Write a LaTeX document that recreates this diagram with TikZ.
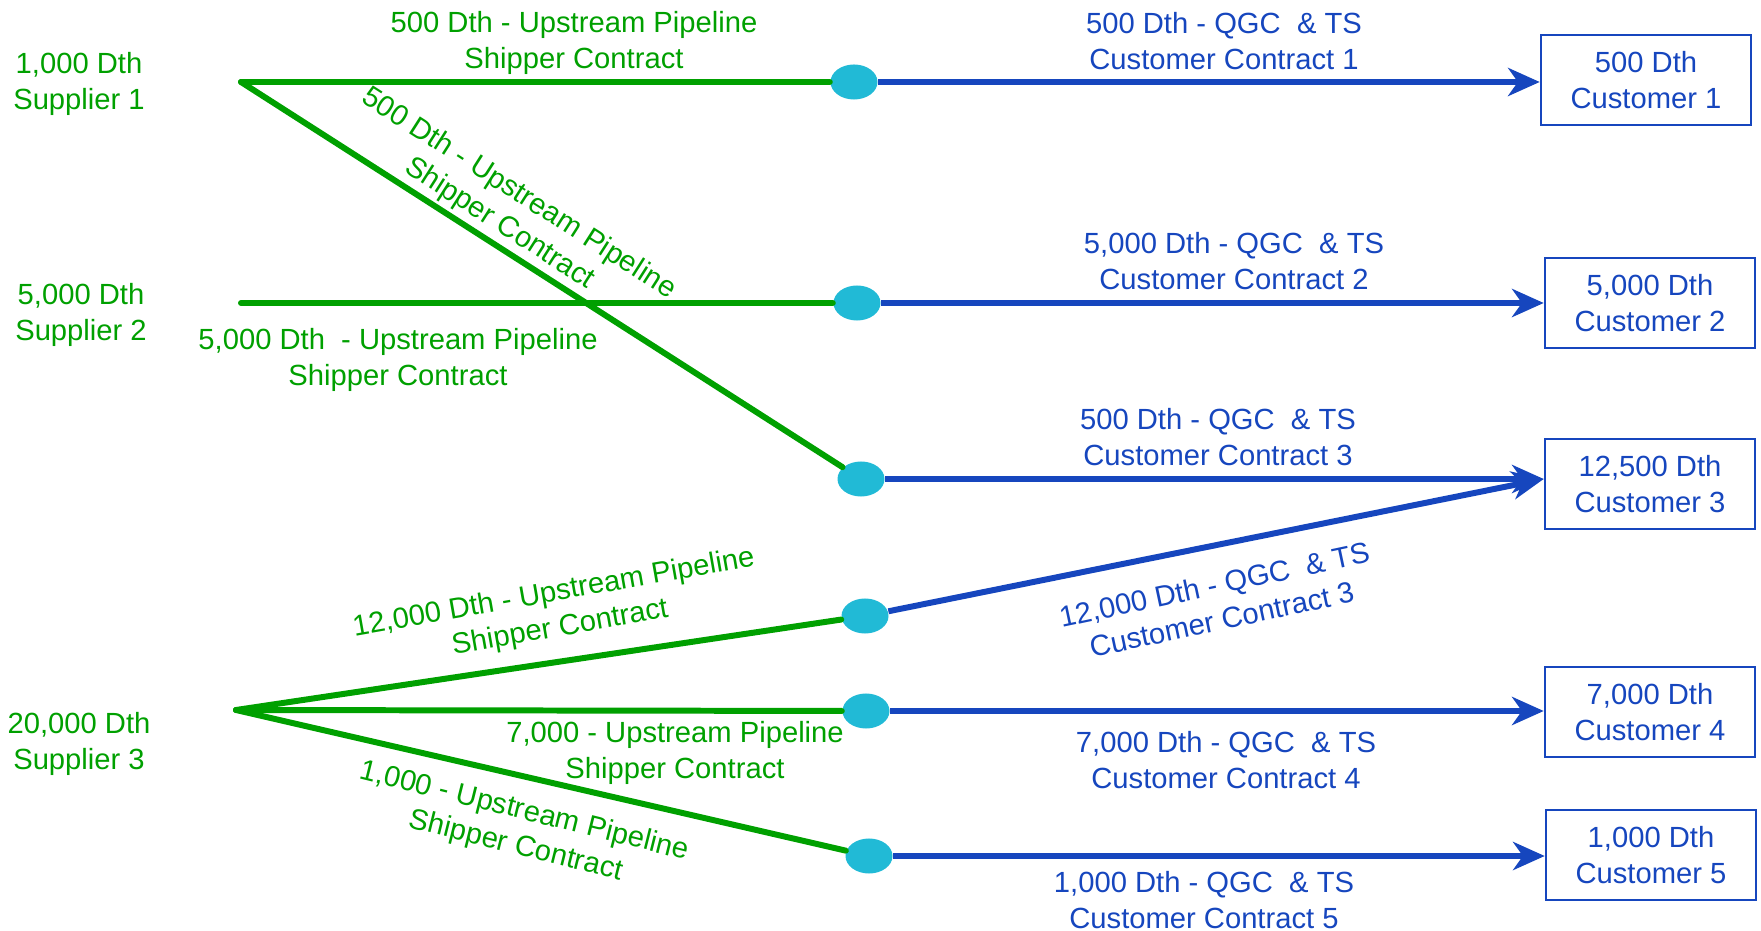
\documentclass[tikz,border=0pt]{standalone}
\usepackage{fontspec}
\setmainfont{Liberation Sans}
\usetikzlibrary{arrows.meta}
\usetikzlibrary{shapes.geometric}

\definecolor{pipegreen}{RGB}{0,160,0}
\definecolor{flowblue}{RGB}{22,70,190}
\definecolor{hubcyan}{RGB}{33,186,214}

\begin{document}
\begin{tikzpicture}[x=0.01cm, y=-0.01cm,
    every node/.style={font=\fontsize{8.3}{10.1}\selectfont, align=center, inner sep=0pt},
    hub/.style={ellipse, fill=hubcyan, minimum width=0.47cm, minimum height=0.35cm},
    custbox/.style={rectangle, draw=flowblue, line width=0.7pt, text=flowblue, minimum width=2.1cm, minimum height=0.9cm},
    pipe/.style={line width=1.7pt, pipegreen, line cap=round},
    flow/.style={line width=1.7pt, flowblue, -{Stealth[length=9pt,width=8pt,inset=2.8pt]}},
    glbl/.style={text=pipegreen},
    blbl/.style={text=flowblue}]

  \useasboundingbox (0,0) rectangle (1761,931);

  % suppliers
  \node[glbl] (sup1) at (79,84) {1,000 Dth\\Supplier 1};
  \node[glbl] (sup2) at (81,315) {5,000 Dth\\Supplier 2};
  \node[glbl] (sup3) at (79,744) {20,000 Dth\\Supplier 3};
  \coordinate (s1) at (241,82);
  \coordinate (s2) at (241,303);
  \coordinate (s3) at (236,710);

  % hubs
  \node[hub] (h1) at (854,82) {};
  \node[hub] (h2) at (857,303) {};
  \node[hub] (h3) at (861,479) {};
  \node[hub] (h4) at (865,616) {};
  \node[hub] (h5) at (866,711) {};
  \node[hub] (h6) at (869,856) {};

  % customers
  \node[custbox] (c1) at (1646,80) {500 Dth\\Customer 1};
  \node[custbox] (c2) at (1650,303) {5,000 Dth\\Customer 2};
  \node[custbox] (c3) at (1650,484) {12,500 Dth\\Customer 3};
  \node[custbox] (c4) at (1650,712) {7,000 Dth\\Customer 4};
  \node[custbox] (c5) at (1651,855) {1,000 Dth\\Customer 5};

  % upstream pipeline contracts
  \draw[pipe] (s1) -- (h1);
  \draw[pipe] (s1) -- (h3);
  \draw[pipe] (s2) -- (h2);
  \draw[pipe] (s3) -- (h4);
  \draw[pipe] (s3) -- (h5);
  \draw[pipe] (s3) -- (h6);

  % customer contracts
  \draw[flow] (h1) -- (h1 -| c1.west);
  \draw[flow] (h2) -- (h2 -| c2.west);
  \draw[flow] (h3) -- (h3 -| c3.west);
  \draw[flow] (h4) -- (h3 -| c3.west);
  \draw[flow] (h5) -- (h5 -| c4.west);
  \draw[flow] (h6) -- (h6 -| c5.west);

  \node[glbl] (lbl_p1) at (574,43) {500 Dth - Upstream Pipeline\\Shipper Contract};
  \node[glbl, rotate=-32.6] (lbl_p2) at (509,209) {500 Dth - Upstream Pipeline\\Shipper Contract};
  \node[glbl] (lbl_p3) at (398,360) {5,000 Dth\ \ - Upstream Pipeline\\Shipper Contract};
  \node[glbl, rotate=10] (lbl_p4) at (557,611) {12,000 Dth - Upstream Pipeline\\Shipper Contract};
  \node[glbl] (lbl_p5) at (675,753) {7,000 - Upstream Pipeline\\Shipper Contract};
  \node[glbl, rotate=-14] (lbl_p6) at (520,829) {1,000 - Upstream Pipeline\\Shipper Contract};

  \node[blbl] (lbl_c1) at (1224,41) {500 Dth - QGC\ \ \& TS\\Customer Contract 1};
  \node[blbl] (lbl_c2) at (1234,261) {5,000 Dth - QGC\ \ \& TS\\Customer Contract 2};
  \node[blbl] (lbl_c3) at (1218,437) {500 Dth - QGC\ \ \& TS\\Customer Contract 3};
  \node[blbl, rotate=12] (lbl_c4) at (1218,602) {12,000 Dth - QGC\ \ \& TS\\Customer Contract 3};
  \node[blbl] (lbl_c5) at (1226,760) {7,000 Dth - QGC\ \ \& TS\\Customer Contract 4};
  \node[blbl] (lbl_c6) at (1204,900) {1,000 Dth - QGC\ \ \& TS\\Customer Contract 5};
\end{tikzpicture}
\end{document}
